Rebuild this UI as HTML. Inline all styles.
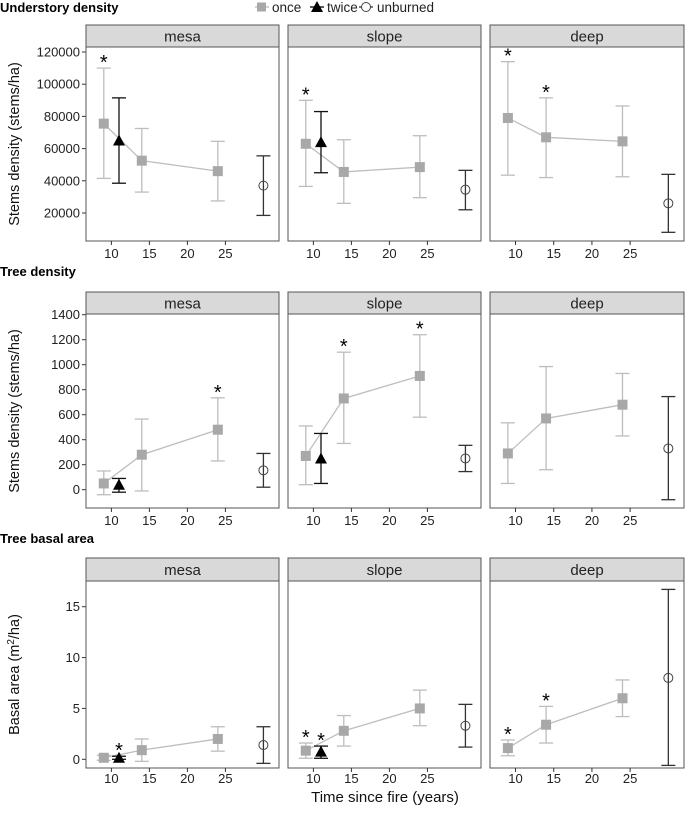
<!DOCTYPE html>
<html><head><meta charset="utf-8"><style>
body{margin:0;background:#fff;}
svg{display:block;font-family:"Liberation Sans",sans-serif;}
</style></head><body>
<svg id="c" width="685" height="815"></svg>
<script>
// ---- data ----
const facets = ["mesa","slope","deep"];
const onceX = [9,14,24];
const twiceX = 11;
const unburnedX = 30;
// row 1: understory density
const r1Once = [[75500,52500,46000],[63000,45500,48500],[79000,67000,64500]];
const r1OnceLo = [[41500,33000,27500],[36500,26000,29500],[43500,42000,42500]];
const r1OnceHi = [[110000,72500,64500],[90000,65500,68000],[114000,91500,86500]];
const r1Twice = [65000,64000,null];
const r1TwiceLo = [38500,45000,null];
const r1TwiceHi = [91500,83000,null];
const r1Unb = [37000,34500,26000];
const r1UnbLo = [18500,22000,8000];
const r1UnbHi = [55500,46500,44000];
const r1Stars = [[9],[9],[9,14]];
const r1Ticks = [20000,40000,60000,80000,100000,120000];
// row 2: tree density
const r2Once = [[50,280,480],[270,730,910],[290,570,680]];
const r2OnceLo = [[-40,-10,230],[40,370,580],[50,160,430]];
const r2OnceHi = [[150,565,735],[510,1100,1240],[535,985,930]];
const r2Twice = [40,250,null];
const r2TwiceLo = [-20,50,null];
const r2TwiceHi = [90,450,null];
const r2Unb = [155,250,330];
const r2UnbLo = [20,145,-80];
const r2UnbHi = [290,355,745];
const r2Stars = [[24],[14,24],[]];
const r2Ticks = [0,200,400,600,800,1000,1200,1400];
// row 3: basal area
const r3Once = [[0.15,0.9,2.0],[0.85,2.8,5.0],[1.1,3.4,6.0]];
const r3OnceLo = [[-0.1,-0.2,0.8],[0.1,1.3,3.3],[0.35,1.6,4.2]];
const r3OnceHi = [[0.4,2.0,3.2],[1.6,4.3,6.8],[1.9,5.2,7.8]];
const r3Twice = [0.15,0.75,null];
const r3TwiceLo = [0.0,0.1,null];
const r3TwiceHi = [0.3,1.3,null];
const r3Unb = [1.4,3.3,8.0];
const r3UnbLo = [-0.4,1.2,-0.6];
const r3UnbHi = [3.2,5.4,16.7];
const r3Stars = [[11],[9,11],[9,14]];
const r3Ticks = [0,5,10,15];
const xTicks = [10,15,20,25];

const NS="http://www.w3.org/2000/svg";
const svg=document.getElementById('c');
function el(tag,attrs,parent,text){const e=document.createElementNS(NS,tag);for(const k in attrs)e.setAttribute(k,attrs[k]);if(text!==undefined)e.textContent=text;(parent||svg).appendChild(e);return e;}

const panelX=[[86,279],[288,481],[490,684]];
const xDom=[6.66,32.05];
const rows=[
 {title:"Understory density",titleY:12,stripTop:25,stripBot:47,bot:241,v0:20000,p0:213,v1:120000,p1:52,ytitle:"Stems density (stems/ha)",
  once:r1Once,lo:r1OnceLo,hi:r1OnceHi,tw:r1Twice,twl:r1TwiceLo,twh:r1TwiceHi,ub:r1Unb,ubl:r1UnbLo,ubh:r1UnbHi,stars:r1Stars,ticks:r1Ticks,xlY:258},
 {title:"Tree density",titleY:276,stripTop:292,stripBot:314,bot:508,v0:0,p0:489.7,v1:1400,p1:314.7,ytitle:"Stems density (stems/ha)",
  once:r2Once,lo:r2OnceLo,hi:r2OnceHi,tw:r2Twice,twl:r2TwiceLo,twh:r2TwiceHi,ub:r2Unb,ubl:r2UnbLo,ubh:r2UnbHi,stars:r2Stars,ticks:r2Ticks,xlY:525},
 {title:"Tree basal area",titleY:543,stripTop:558,stripBot:581,bot:768,v0:0,p0:759.3,v1:15,p1:606.7,ytitle:"basal",
  once:r3Once,lo:r3OnceLo,hi:r3OnceHi,tw:r3Twice,twl:r3TwiceLo,twh:r3TwiceHi,ub:r3Unb,ubl:r3UnbLo,ubh:r3UnbHi,stars:r3Stars,ticks:r3Ticks,xlY:783}
];
const GREY="#a8a8a8", LGREY="#bdbdbd", DARK="#333";

function errbar(g,x,ylo,yhi,col,name){
  const b=el('g',{},g);
  
  
  el('line',{x1:x,x2:x,y1:ylo,y2:yhi,stroke:col,'stroke-width':1.3},b);
  el('line',{x1:x-7,x2:x+7,y1:ylo,y2:ylo,stroke:col,'stroke-width':1.3},b);
  el('line',{x1:x-7,x2:x+7,y1:yhi,y2:yhi,stroke:col,'stroke-width':1.3},b);
}

rows.forEach((r,ri)=>{
  const Y=v=>r.p0+(v-r.v0)*(r.p1-r.p0)/(r.v1-r.v0);
  const t=el('text',{x:0,y:r.titleY,'font-size':13,'font-weight':'bold',fill:'#000'},svg,r.title);
  
  
  const cy=(r.stripBot+r.bot)/2;
  const yt=el('text',{x:19,y:cy,'font-size':14.5,'text-anchor':'middle',transform:`rotate(-90 19 ${cy})`,fill:'#111'},svg);
  
  
  if(r.ytitle==="basal"){
    yt.textContent="Basal area (m";
    el('tspan',{dy:-5,'font-size':10},yt,"2");
    el('tspan',{dy:5},yt,"/ha)");
  } else yt.textContent=r.ytitle;
  r.ticks.forEach(v=>{
    const lb=el('text',{x:80,y:Y(v)+4.5,'font-size':13,'text-anchor':'end',fill:'#222'},svg,String(v));
    
    
    el('line',{x1:82,x2:86,y1:Y(v),y2:Y(v),stroke:'#333','stroke-width':1});
  });
  facets.forEach((f,fi)=>{
    const [xa,xb]=panelX[fi];
    const X=v=>xa+(v-xDom[0])*(xb-xa)/(xDom[1]-xDom[0]);
    const g=el('g',{});
    
    
    const s=el('rect',{x:xa,y:r.stripTop,width:xb-xa,height:r.stripBot-r.stripTop,fill:'#d9d9d9',stroke:'#555','stroke-width':1},g);
    
    
    el('text',{x:(xa+xb)/2,y:(r.stripTop+r.stripBot)/2+5.5,'font-size':15,'text-anchor':'middle',fill:'#222'},g,f);
    el('rect',{x:xa,y:r.stripBot,width:xb-xa,height:r.bot-r.stripBot,fill:'#fff',stroke:'#555','stroke-width':1},g);
    xTicks.forEach(v=>{
      el('line',{x1:X(v),x2:X(v),y1:r.bot,y2:r.bot+4,stroke:'#333'},g);
      const lb=el('text',{x:X(v),y:r.xlY,'font-size':13,'text-anchor':'middle',fill:'#222'},g,String(v));
      
      
    });
    const pts=onceX.map((x,i)=>X(x)+','+Y(r.once[fi][i])).join(' ');
    const pl=el('polyline',{points:pts,fill:'none',stroke:LGREY,'stroke-width':1.3},g);
    
    
    onceX.forEach((x,i)=>{
      errbar(g,X(x),Y(r.lo[fi][i]),Y(r.hi[fi][i]),LGREY,'once-errorbar');
      const p=el('rect',{x:X(x)-5,y:Y(r.once[fi][i])-5,width:10,height:10,fill:GREY},g);
      
      
    });
    if(r.tw[fi]!==null){
      errbar(g,X(twiceX),Y(r.twl[fi]),Y(r.twh[fi]),'#111','twice-errorbar');
      const x=X(twiceX),y=Y(r.tw[fi]);
      const p=el('polygon',{points:`${x-6},${y+5} ${x+6},${y+5} ${x},${y-6}`,fill:'#000'},g);
      
      
    }
    errbar(g,X(unburnedX),Y(r.ubl[fi]),Y(r.ubh[fi]),DARK,'unburned-errorbar');
    const c=el('circle',{cx:X(unburnedX),cy:Y(r.ub[fi]),r:4.5,fill:'none',stroke:'#444','stroke-width':1},g);
    
    
    r.stars[fi].forEach(sx=>{
      let top;
      if(sx===twiceX) top=Y(r.twh[fi]); else top=Y(r.hi[fi][onceX.indexOf(sx)]);
      const st=el('text',{x:X(sx),y:top+1,'font-size':20,'text-anchor':'middle',fill:'#000'},g,"*");
      
      
    });
  });
});
const xt=el('text',{x:385,y:802,'font-size':15,'text-anchor':'middle',fill:'#111'},svg,"Time since fire (years)");


const lg=el('g',{});


el('line',{x1:255,x2:269,y1:7,y2:7,stroke:LGREY,'stroke-width':1.3},lg);
el('rect',{x:257,y:2.5,width:9,height:9,fill:GREY},lg);
el('text',{x:272,y:12,'font-size':13.5,fill:'#222'},lg,"once");
el('line',{x1:310,x2:324,y1:7,y2:7,stroke:'#000','stroke-width':1.3},lg);
el('polygon',{points:"311,12 323,12 317,1",fill:'#000'},lg);
el('text',{x:327,y:12,'font-size':13.5,fill:'#222'},lg,"twice");
el('line',{x1:359,x2:373,y1:7,y2:7,stroke:'#333','stroke-width':1.3},lg);
el('circle',{cx:366,cy:7,r:4.5,fill:'#fff',stroke:'#444'},lg);
el('text',{x:377,y:12,'font-size':13.5,fill:'#222'},lg,"unburned");
</script>
</body></html>
